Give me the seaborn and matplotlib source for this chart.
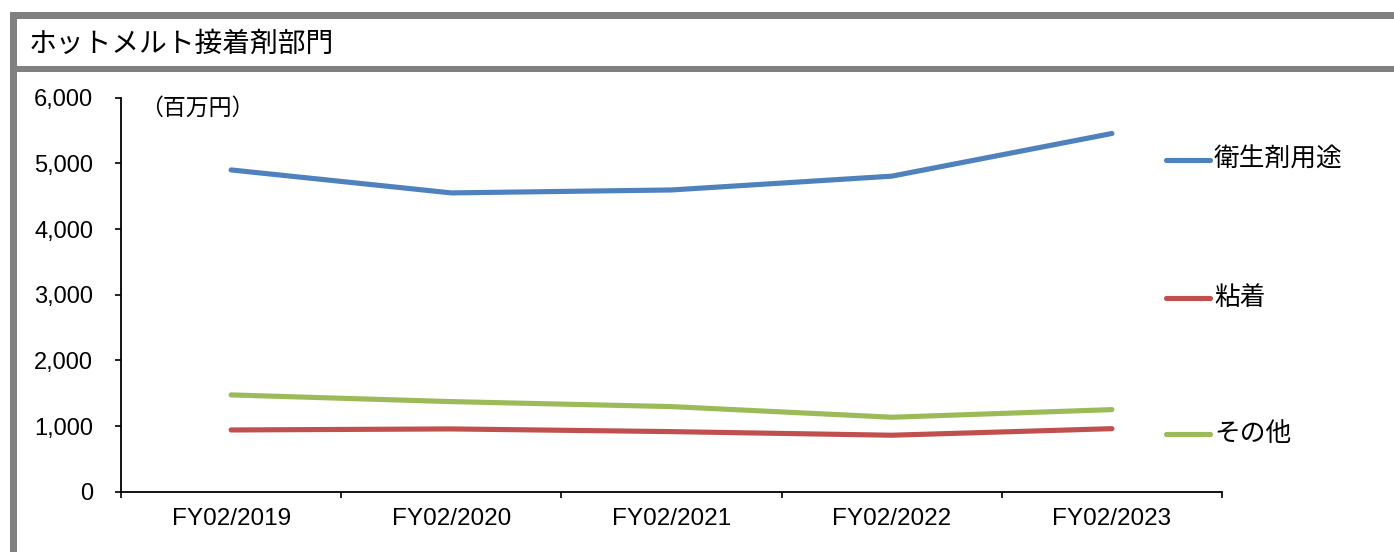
import numpy as np
import pandas as pd
import seaborn as sns
import matplotlib.pyplot as plt
from matplotlib.lines import Line2D
from matplotlib.patches import Rectangle

# Fiscal years and segment sales (million yen)
years = ["FY02/2019", "FY02/2020", "FY02/2021", "FY02/2022", "FY02/2023"]
series_names = ["衛生剤用途", "粘着", "その他"]
hygiene = [4900, 4550, 4595, 4805, 5455]
adhesive = [940, 956, 915, 860, 960]
other = [1474, 1372, 1296, 1134, 1250]
colors = ["#4F81BD", "#C0504D", "#9BBB59"]
y_ticks = [0, 1000, 2000, 3000, 4000, 5000, 6000]

sns.set_theme(style="white")
plt.rcParams["font.family"] = ["Liberation Sans", "Noto Sans CJK JP", "DejaVu Sans"]

W, H = 1394, 552
fig = plt.figure(figsize=(W / 100, H / 100), dpi=100)
fig.patch.set_facecolor("white")

def fx(px):
    return px / W

def fy(py):
    return 1 - py / H

ax = fig.add_axes([fx(121), fy(491.7), fx(1222) - fx(121), fy(97.7) - fy(491.7)])

pos = np.arange(len(years))
df = pd.DataFrame({
    "pos": np.tile(pos, 3),
    "value": hygiene + adhesive + other,
    "series": np.repeat(series_names, len(years)),
})
sns.lineplot(data=df, x="pos", y="value", hue="series", hue_order=series_names,
             palette=colors, linewidth=3.7, legend=False, ax=ax,
             solid_capstyle="round")

ax.set_xlim(-0.5, len(years) - 0.5)
ax.set_ylim(0, 6000)
ax.set_xlabel("")
ax.set_ylabel("")

# Category boundaries carry the tick marks; labels sit at the category centres
ax.set_xticks(np.arange(-0.5, len(years), 1.0))
ax.set_xticklabels([])
ax.set_xticks(pos, minor=True)
ax.set_xticklabels(years, minor=True)
ax.tick_params(axis="x", which="major", direction="out", length=4, width=1.2,
               color="black", bottom=True)
ax.tick_params(axis="x", which="minor", length=0, pad=12, labelsize=17.5,
               labelcolor="black")

ax.set_yticks(y_ticks)
ax.set_yticklabels([f"{v:,}" for v in y_ticks])
ax.tick_params(axis="y", direction="out", length=4, width=1.2, color="black",
               left=True, pad=16, labelsize=17, labelcolor="black")

for side in ["top", "right"]:
    ax.spines[side].set_visible(False)
for side in ["left", "bottom"]:
    ax.spines[side].set_color("black")
    ax.spines[side].set_linewidth(1.3)
ax.grid(False)
ax.set_facecolor("none")

# Unit label
fig.text(fx(140), fy(108), "（百万円）", fontsize=16.5,
         family=["Noto Sans CJK JP", "DejaVu Sans"], va="center", ha="left",
         color="black")

# Series legend placed beside the line ends
legend_y = [160, 298, 434]
for name, col, ly in zip(series_names, colors, legend_y):
    fig.add_artist(Line2D([fx(1166), fx(1210)], [fy(ly), fy(ly)], color=col,
                          linewidth=3.7, solid_capstyle="round",
                          transform=fig.transFigure))
    fig.text(fx(1214), fy(ly), name, fontsize=18.5,
             family=["Noto Sans CJK JP", "DejaVu Sans"], va="center",
             ha="left", color="black")

# Panel frame and title bar
grey = "#808080"
fig.add_artist(Rectangle((fx(10), fy(18.5)), 1, fy(12) - fy(18.5),
                         transform=fig.transFigure, color=grey, lw=0))
fig.add_artist(Rectangle((fx(10), fy(71.5)), 1, fy(65.5) - fy(71.5),
                         transform=fig.transFigure, color=grey, lw=0))
fig.add_artist(Rectangle((fx(10), 0), fx(17) - fx(10), fy(12),
                         transform=fig.transFigure, color=grey, lw=0))
fig.text(fx(29), fy(44), "ホットメルト接着剤部門", fontsize=20,
         family=["Noto Sans CJK JP", "DejaVu Sans"], va="center", ha="left",
         color="black")

fig.savefig("out.png", dpi=100, facecolor="white")
